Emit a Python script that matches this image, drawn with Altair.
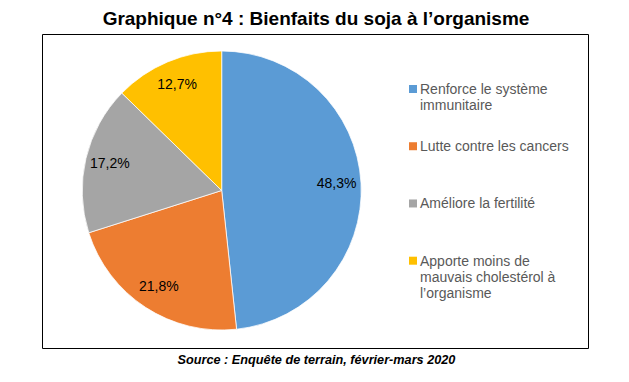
import altair as alt
import pandas as pd

# ---- data ----
categories = [
    "Renforce le système immunitaire",
    "Lutte contre les cancers",
    "Améliore la fertilité",
    "Apporte moins de mauvais cholestérol à l’organisme",
]
legend_labels = [
    "Renforce le système\nimmunitaire",
    "Lutte contre les cancers",
    "Améliore la fertilité",
    "Apporte moins de\nmauvais cholestérol à\nl’organisme",
]
values = [48.3, 21.8, 17.2, 12.7]
value_labels = ["48,3%", "21,8%", "17,2%", "12,7%"]
colors = ["#5B9BD5", "#ED7D31", "#A5A5A5", "#FFC000"]
title_text = ["Graphique n°4 : Bienfaits du soja à l’organisme"]
source_text = ["Source : Enquête de terrain, février-mars 2020"]

df = pd.DataFrame({
    "categorie": categories,
    "legende": legend_labels,
    "valeur": values,
    "etiquette": value_labels,
    "ordre": list(range(len(categories))),
})

FONT = "Liberation Sans"
CX, CY, R = 179.7, 156.5, 139.5

color = alt.Color("categorie:N", scale=alt.Scale(domain=categories, range=colors), legend=None)
theta = alt.Theta("valeur:Q", stack=True)
order = alt.Order("ordre:Q")

base = alt.Chart(df)

pie = base.mark_arc(outerRadius=R, stroke="white", strokeWidth=0.75).encode(
    theta=theta, color=color, order=order, x=alt.value(CX), y=alt.value(CY)
)

pie_labels = base.mark_text(radius=115, font=FONT, fontSize=14, color="#000000").encode(
    theta=theta, order=order, text="etiquette:N", x=alt.value(CX), y=alt.value(CY)
)

y_leg = alt.Y(
    "categorie:N",
    sort=categories,
    scale=alt.Scale(type="point", domain=categories, range=[55, 226.7], padding=0),
    axis=None,
)

squares = base.mark_square(size=64, opacity=1).encode(
    y=y_leg, x=alt.value(371), color=color
)

legend_text = base.mark_text(
    align="left", baseline="alphabetic", dy=5, font=FONT, fontSize=14,
    color="#595959", lineBreak="\n", lineHeight=16,
).encode(y=y_leg, x=alt.value(378), text="legende:N")

title = alt.Chart(pd.DataFrame({"t": title_text})).mark_text(
    align="center", baseline="alphabetic", font=FONT, fontSize=19,
    fontWeight="bold", color="#000000",
).encode(text="t:N", x=alt.value(274), y=alt.value(-9))

source = alt.Chart(pd.DataFrame({"t": source_text})).mark_text(
    align="center", baseline="alphabetic", font=FONT, fontSize=12.7,
    fontWeight="bold", fontStyle="italic", color="#000000",
).encode(text="t:N", x=alt.value(274.5), y=alt.value(330))

chart = alt.layer(pie, pie_labels, squares, legend_text, title, source).properties(
    width=546,
    height=314,
    padding={"left": 34, "top": 26, "right": 33, "bottom": 26},
    autosize=alt.AutoSizeParams(type="none"),
).configure_view(stroke="#000000", strokeWidth=1)

chart.save("out.html", embed_options={"renderer": "svg", "actions": False})
